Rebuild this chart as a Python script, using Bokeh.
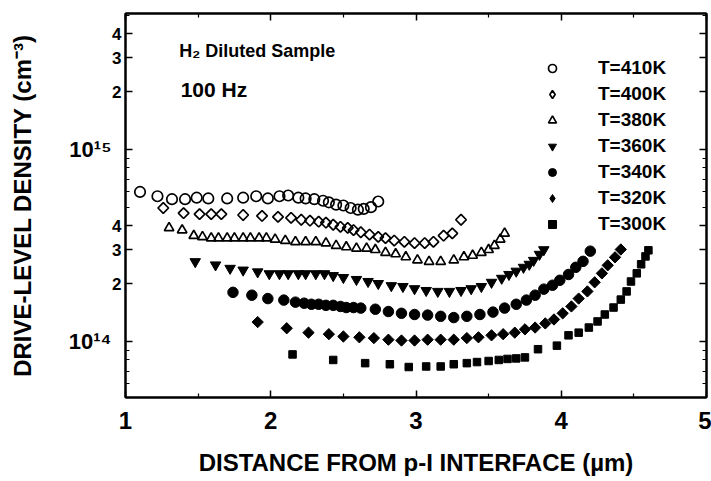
from bokeh.plotting import figure
from bokeh.models import (LinearAxis, LogAxis, FixedTicker, CustomJSTickFormatter,
                          CustomLabelingPolicy, Legend, LegendItem, Label, Range1d)
from bokeh.embed import file_html
from bokeh.resources import INLINE
import math

FONT = "Liberation Sans"
SCALE = 1e14  # densities below are in units of 1e14 cm^-3

# Distance from the p-i interface (µm) and drive-level density for each temperature
x410 = [1.10, 1.22, 1.32, 1.41, 1.49, 1.57, 1.70, 1.81, 1.90, 1.98, 2.06, 2.12, 2.19, 2.24,
        2.30, 2.36, 2.40, 2.45, 2.50, 2.55, 2.60, 2.64, 2.69, 2.74]
y410 = [6.0, 5.7, 5.5, 5.5, 5.6, 5.55, 5.55, 5.6, 5.7, 5.55, 5.7, 5.75, 5.6, 5.55,
        5.5, 5.4, 5.3, 5.15, 5.1, 4.95, 4.85, 4.9, 5.0, 5.35]

x400 = [1.26, 1.40, 1.51, 1.59, 1.66, 1.81, 1.94, 2.05, 2.14, 2.21, 2.27, 2.33, 2.38, 2.43,
        2.48, 2.53, 2.57, 2.62, 2.68, 2.74, 2.79, 2.85, 2.92, 2.99, 3.06, 3.12, 3.19, 3.25, 3.31]
y400 = [4.95, 4.65, 4.6, 4.6, 4.6, 4.55, 4.5, 4.45, 4.4, 4.3, 4.25, 4.2, 4.15, 4.05,
        3.95, 3.9, 3.8, 3.7, 3.6, 3.5, 3.45, 3.35, 3.3, 3.25, 3.25, 3.3, 3.55, 3.65, 4.3]

x380 = [1.30, 1.39, 1.47, 1.53, 1.59, 1.64, 1.70, 1.75, 1.81, 1.86, 1.92, 1.97, 2.03, 2.10,
        2.17, 2.24, 2.31, 2.38, 2.45, 2.52, 2.59, 2.66, 2.72, 2.79, 2.86, 2.93, 3.01, 3.09,
        3.17, 3.26, 3.33, 3.39, 3.45, 3.50, 3.54, 3.58, 3.61]
y380 = [3.9, 3.8, 3.55, 3.5, 3.45, 3.45, 3.45, 3.45, 3.45, 3.45, 3.45, 3.45, 3.4, 3.35,
        3.3, 3.3, 3.3, 3.25, 3.15, 3.1, 3.05, 3.05, 3.0, 2.9, 2.85, 2.75, 2.65, 2.6,
        2.6, 2.65, 2.75, 2.8, 2.9, 3.0, 3.15, 3.4, 3.65]

x360 = [1.48, 1.62, 1.72, 1.81, 1.91, 1.99, 2.06, 2.12, 2.19, 2.24, 2.31, 2.37, 2.43, 2.50,
        2.59, 2.67, 2.74, 2.83, 2.91, 2.99, 3.07, 3.15, 3.23, 3.31, 3.38, 3.45, 3.52, 3.59,
        3.64, 3.69, 3.74, 3.78, 3.81, 3.85, 3.88]
y360 = [2.6, 2.5, 2.4, 2.35, 2.3, 2.25, 2.25, 2.25, 2.25, 2.25, 2.25, 2.25, 2.2, 2.15,
        2.1, 2.05, 2.0, 1.95, 1.93, 1.88, 1.84, 1.82, 1.82, 1.84, 1.88, 1.93, 2.03, 2.13,
        2.23, 2.32, 2.43, 2.52, 2.64, 2.84, 3.0]

x340 = [1.74, 1.87, 1.98, 2.09, 2.17, 2.23, 2.28, 2.33, 2.38, 2.43, 2.48, 2.52, 2.57, 2.62,
        2.72, 2.81, 2.90, 2.99, 3.08, 3.17, 3.26, 3.35, 3.44, 3.53, 3.61, 3.69, 3.76, 3.82,
        3.88, 3.94, 3.99, 4.05, 4.10, 4.15, 4.20]
y340 = [1.8, 1.74, 1.67, 1.64, 1.6, 1.58, 1.56, 1.56, 1.54, 1.54, 1.52, 1.5, 1.5, 1.49,
        1.47, 1.43, 1.4, 1.38, 1.37, 1.35, 1.33, 1.35, 1.38, 1.42, 1.49, 1.56, 1.64, 1.74,
        1.87, 1.96, 2.08, 2.23, 2.43, 2.61, 2.95]

x320 = [1.91, 2.11, 2.26, 2.40, 2.50, 2.61, 2.71, 2.81, 2.90, 2.99, 3.08, 3.17, 3.26, 3.35,
        3.43, 3.52, 3.60, 3.68, 3.75, 3.82, 3.89, 3.95, 4.01, 4.07, 4.12, 4.18, 4.23, 4.28,
        4.32, 4.37, 4.41]
y320 = [1.26, 1.17, 1.11, 1.09, 1.06, 1.05, 1.04, 1.02, 1.01, 1.01, 1.02, 1.02, 1.02, 1.04,
        1.05, 1.075, 1.09, 1.11, 1.155, 1.18, 1.24, 1.30, 1.40, 1.52, 1.67, 1.82, 2.03, 2.26,
        2.49, 2.74, 3.01]

x300 = [2.15, 2.43, 2.65, 2.82, 2.95, 3.07, 3.17, 3.26, 3.35, 3.42, 3.50, 3.57, 3.63, 3.69,
        3.75, 3.84, 3.97, 4.05, 4.12, 4.19, 4.25, 4.30, 4.36, 4.41, 4.45, 4.48, 4.52, 4.55,
        4.58, 4.60]
y300 = [0.855, 0.80, 0.77, 0.76, 0.735, 0.74, 0.74, 0.76, 0.77, 0.78, 0.79, 0.80, 0.81, 0.815,
        0.825, 0.91, 0.95, 1.075, 1.11, 1.18, 1.27, 1.38, 1.50, 1.65, 1.82, 2.05, 2.26, 2.52,
        2.77, 2.98]

temperatures = ["T=410K", "T=400K", "T=380K", "T=360K", "T=340K", "T=320K", "T=300K"]

# Axis ticks and labels
x_ticks = [1, 2, 3, 4, 5]
x_minor_ticks = [1.5, 2.5, 3.5, 4.5]
y_ticks = [1e14, 2e14, 3e14, 4e14, 1e15, 2e15, 3e15, 4e15]
y_tick_labels = ["", "2", "3", "4", "", "2", "3", "4"]
y_minor_ticks = [6e13, 7e13, 8e13, 9e13, 5e14, 6e14, 7e14, 8e14, 9e14, 5e15]
y_decades = [1e14, 1e15]
y_decade_labels = ["10\u00b9\u2074", "10\u00b9\u2075"]

p = figure(width=711, height=481, output_backend="svg", toolbar_location=None,
           x_range=Range1d(1, 5), y_range=Range1d(5.1e13, 5.1e15),
           y_axis_type="log", x_axis_location=None, y_axis_location=None,
           min_border_left=125, min_border_right=5, min_border_top=13, min_border_bottom=84)
p.grid.visible = False
p.outline_line_color = "black"
p.outline_line_width = 2
p.background_fill_color = "white"
p.border_fill_color = "white"

# drops every tick label (used by the mirrored top/right axes)
no_labels = CustomLabelingPolicy(code="for (const i of indices) indices.unset(i); return indices;")


def style_ticks(ax):
    ax.axis_line_color = "black"
    ax.axis_line_width = 2
    ax.major_tick_in = 7
    ax.major_tick_out = 0
    ax.minor_tick_in = 4
    ax.minor_tick_out = 0
    ax.major_tick_line_width = 1.5
    ax.minor_tick_line_width = 1.2
    ax.major_label_text_font = FONT
    ax.major_label_text_font_style = "bold"
    ax.major_label_text_color = "black"
    ax.axis_label_text_color = "black"


def ticks_only(ax):
    ax.major_label_policy = no_labels
    ax.major_label_text_font_size = "0px"
    ax.major_label_standoff = 0


# bottom axis
xb = LinearAxis(ticker=FixedTicker(ticks=x_ticks, minor_ticks=x_minor_ticks),
                axis_label="DISTANCE FROM p-I INTERFACE (\u00b5m)")
style_ticks(xb)
xb.major_label_text_font_size = "24px"
xb.major_label_standoff = 14
xb.axis_label_text_font = FONT
xb.axis_label_text_font_style = "bold"
xb.axis_label_text_font_size = "24px"
xb.axis_label_standoff = 17
p.add_layout(xb, "below")

# top axis: ticks only
xt = LinearAxis(ticker=FixedTicker(ticks=x_ticks, minor_ticks=x_minor_ticks))
style_ticks(xt)
ticks_only(xt)
p.add_layout(xt, "above")

# left axis next to the frame: all ticks, mantissa labels between decades
yl = LogAxis(ticker=FixedTicker(ticks=y_ticks, minor_ticks=y_minor_ticks),
             formatter=CustomJSTickFormatter(args=dict(labels=y_tick_labels),
                                             code="return labels[index];"),
             major_label_policy=CustomLabelingPolicy(
                 args=dict(labels=y_tick_labels),
                 code="for (const i of indices) if (labels[i] === '') indices.unset(i); return indices;"))
style_ticks(yl)
yl.major_label_text_font_size = "17px"
yl.major_label_standoff = 4
p.add_layout(yl, "left")

# outer left axis: decade labels and the axis title
yd = LogAxis(ticker=FixedTicker(ticks=y_decades, minor_ticks=[]),
             formatter=CustomJSTickFormatter(args=dict(labels=y_decade_labels),
                                             code="return labels[index];"),
             axis_label="DRIVE-LEVEL DENSITY (cm\u207b\u00b3)")
yd.axis_line_color = None
yd.major_tick_line_color = None
yd.minor_tick_line_color = None
yd.major_tick_in = 0
yd.major_tick_out = 0
yd.major_label_text_font = FONT
yd.major_label_text_font_style = "bold"
yd.major_label_text_font_size = "22px"
yd.major_label_text_color = "black"
yd.major_label_standoff = -2
yd.axis_label_text_font = FONT
yd.axis_label_text_font_style = "bold"
yd.axis_label_text_font_size = "24px"
yd.axis_label_text_color = "black"
yd.axis_label_standoff = 30
p.add_layout(yd, "left")

# right axis: ticks only
yr = LogAxis(ticker=FixedTicker(ticks=y_ticks, minor_ticks=y_minor_ticks))
style_ticks(yr)
ticks_only(yr)
p.add_layout(yr, "right")

sc = lambda ys: [v * SCALE for v in ys]

# open markers
r410 = p.scatter(x410, sc(y410), marker="circle", size=10.5, fill_color=None,
                 line_color="black", line_width=1.7)
r400 = p.scatter(x400, sc(y400), marker="square", angle=math.pi / 4, size=7.5,
                 fill_color=None, line_color="black", line_width=1.7)
r380 = p.scatter(x380, sc(y380), marker="triangle", size=9.5, fill_color=None,
                 line_color="black", line_width=1.7)
# filled markers
r360 = p.scatter(x360, sc(y360), marker="inverted_triangle", size=10.5,
                 fill_color="black", line_color="black")
r340 = p.scatter(x340, sc(y340), marker="circle", size=10.5,
                 fill_color="black", line_color="black")
r320 = p.scatter(x320, sc(y320), marker="square", angle=math.pi / 4, size=8,
                 fill_color="black", line_color="black")
r300 = p.scatter(x300, sc(y300), marker="square", size=7.5,
                 fill_color="black", line_color="black")

# legend keys for the diamond series: legend glyphs are never rotated, so these
# renderers stay muted (fully transparent) and only lend their glyph to the legend
k400 = p.scatter(x400, sc(y400), marker="diamond", size=12, fill_color=None,
                 line_color="black", line_width=1.7, muted_alpha=0, muted=True)
k320 = p.scatter(x320, sc(y320), marker="diamond", size=12, fill_color="black",
                 line_color="black", muted_alpha=0, muted=True)

legend_keys = [r410, k400, r380, r360, r340, k320, r300]
legend = Legend(items=[LegendItem(label=t, renderers=[r]) for t, r in zip(temperatures, legend_keys)],
                location=(417, 162), orientation="vertical",
                glyph_width=20, glyph_height=22, label_height=22, spacing=4,
                padding=0, margin=0, label_standoff=36,
                border_line_color=None, background_fill_alpha=0,
                label_text_font=FONT, label_text_font_style="bold", label_text_color="black",
                label_text_font_size="19px", label_text_baseline="middle")
p.add_layout(legend)

p.add_layout(Label(x=1.37, y=3.24e15, text="H\u2082 Diluted Sample", text_font=FONT,
                   text_font_style="bold", text_font_size="18px", text_color="black",
                   text_baseline="middle"))
p.add_layout(Label(x=1.38, y=2.05e15, text="100 Hz", text_font=FONT,
                   text_font_style="bold", text_font_size="21px", text_color="black",
                   text_baseline="middle"))

open("out.html", "w").write(file_html(p, INLINE))
